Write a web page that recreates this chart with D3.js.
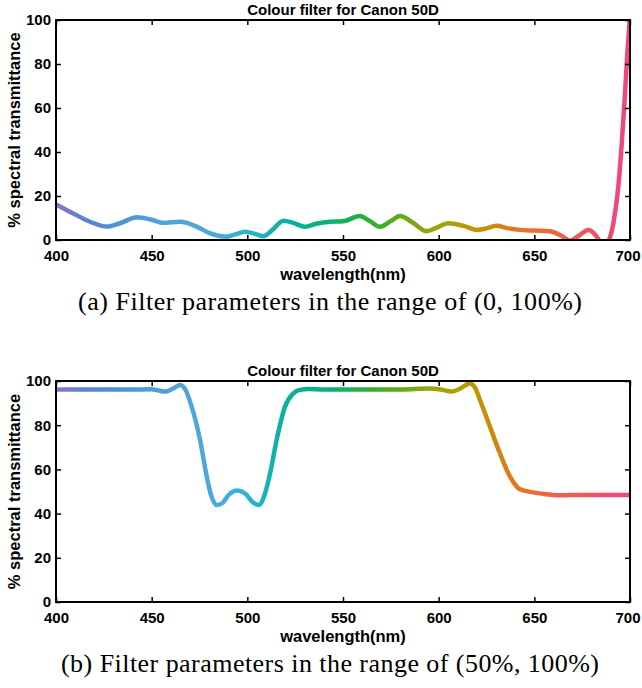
<!DOCTYPE html>
<html>
<head>
<meta charset="utf-8">
<script src="https://cdn.jsdelivr.net/npm/d3@7"></script>
<style>
  body { margin: 0; background: #fff; }
</style>
</head>
<body>
<div id="my_dataviz"></div>
<script>
// panel (a): filter in the range (0, 100%)
var wlA = [400, 409, 417.8, 426.5, 433.4, 442.2, 450, 456, 464.8, 473.5, 480, 489.2, 494, 498.8, 504, 508.4, 513, 518.8, 524, 530.1, 536, 543.2, 550, 558.8, 564, 569.3, 575, 579.8, 587, 593.7, 599, 605, 613, 619.9, 625, 630.3, 636, 642.5, 650, 658, 664, 668.6, 673, 678.2, 682, 684.5, 686.5, 688.7, 691.3, 693.9, 695.7, 697.4, 698.6, 700];
var transA = [16.2, 12.1, 8.3, 6.1, 7.6, 10.3, 9.2, 7.8, 8.3, 6.1, 3.2, 1.5, 2.6, 3.8, 2.8, 1.7, 4.5, 8.8, 7.8, 6.0, 7.4, 8.3, 8.5, 10.9, 8.6, 6.0, 8.6, 10.9, 7.6, 4.0, 5.6, 7.6, 6.4, 4.6, 5.3, 6.5, 5.4, 4.6, 4.3, 4.0, 2.0, -0.3, 1.8, 4.5, 2.2, -1.0, -4.0, -1.0, 7.6, 24.2, 43.9, 66.7, 84.8, 102];

// panel (b): filter in the range (50%, 100%)
var wlB = [400, 420, 440, 450, 453, 457, 461, 464.8, 467.5, 470.9, 475.3, 478.8, 481, 484, 487, 490, 494.8, 499, 503, 506.1, 509, 511.9, 515.3, 519.7, 524, 527.5, 532, 540, 560, 580, 595, 601, 606.8, 611, 616.4, 619, 621.6, 626.8, 632, 637.3, 642.5, 649.4, 655, 661.7, 670, 685, 700];
var transB = [96.2, 96.2, 96.1, 96.3, 95.8, 95.2, 96.5, 98.2, 96.3, 88.4, 73.3, 56.7, 48.5, 43.9, 44.8, 48.2, 50.4, 49.0, 45.0, 43.9, 48.5, 58.2, 73.3, 88.4, 94.4, 96.0, 96.4, 96.2, 96.2, 96.2, 96.6, 96.2, 95.2, 96.5, 98.9, 97.0, 91.4, 79.3, 67.3, 56.7, 51.0, 49.6, 48.9, 48.3, 48.4, 48.4, 48.4];

var xTicks = [400, 450, 500, 550, 600, 650, 700];
var yTicks = [0, 20, 40, 60, 80, 100];
var chartTitle = "Colour filter for Canon 50D";
var xLabel = "wavelength(nm)";
var yLabel = "% spectral transmittance";
var captionA = "(a) Filter parameters in the range of (0, 100%)";
var captionB = "(b) Filter parameters in the range of (50%, 100%)";

// spectrum colours used for the line stroke
var specWl = [400, 415, 430, 460, 485, 500, 515, 530, 550, 565, 580, 595, 610, 625, 640, 655, 670, 685, 700];
var specCol = ["#8b74c6", "#5b84cc", "#4a92d2", "#55a2d8", "#4ca9dc", "#2bb3d2", "#12b0aa", "#05b08e", "#12b062", "#32ae30", "#62aa12", "#92a612", "#b29e04", "#c88e04", "#e07820", "#ee6838", "#f05c52", "#f04c6e", "#f0467c"];

var width = 642, height = 688;
var left = 56, right = 630;

var svg = d3.select("#my_dataviz")
  .append("svg")
    .attr("width", width)
    .attr("height", height)
    .style("font-family", "'Liberation Sans', Arial, sans-serif");

var defs = svg.append("defs");

var x = d3.scaleLinear().domain([400, 700]).range([left, right]);

// gradient along x so the colour follows the wavelength
var grad = defs.append("linearGradient")
  .attr("id", "spec")
  .attr("gradientUnits", "userSpaceOnUse")
  .attr("x1", x(400)).attr("x2", x(700))
  .attr("y1", 0).attr("y2", 0);
grad.selectAll("stop")
  .data(specWl)
  .enter().append("stop")
    .attr("offset", function(d) { return (d - 400) / 300; })
    .attr("stop-color", function(d, i) { return specCol[i]; });

function drawPanel(id, top, bottom, wl, vals, caption, capWidth) {
  var y = d3.scaleLinear().domain([0, 100]).range([bottom, top]);
  var g = svg.append("g");

  defs.append("clipPath").attr("id", "clip" + id)
    .append("rect")
      .attr("x", left).attr("y", top)
      .attr("width", right - left).attr("height", bottom - top);

  // the curve
  var pts = wl.map(function(d, i) { return [d, vals[i]]; });
  var line = d3.line()
    .x(function(d) { return x(d[0]); })
    .y(function(d) { return y(d[1]); })
    .curve(d3.curveMonotoneX);
  g.append("path")
    .datum(pts)
    .attr("clip-path", "url(#clip" + id + ")")
    .attr("d", line)
    .attr("fill", "none")
    .attr("stroke", "url(#spec)")
    .attr("stroke-width", 4.5)
    .attr("stroke-linecap", "round")
    .attr("stroke-linejoin", "round");

  // axes, ticks pointing inward on all four sides
  var xb = g.append("g").attr("transform", "translate(0," + bottom + ")")
    .call(d3.axisBottom(x).tickValues(xTicks).tickSizeInner(-5).tickSizeOuter(0).tickPadding(10).tickFormat(d3.format("d")));
  var xt = g.append("g").attr("transform", "translate(0," + top + ")")
    .call(d3.axisTop(x).tickValues(xTicks).tickSizeInner(-5).tickSizeOuter(0).tickFormat(""));
  var yl = g.append("g").attr("transform", "translate(" + left + ",0)")
    .call(d3.axisLeft(y).tickValues(yTicks).tickSizeInner(-5).tickSizeOuter(0).tickPadding(5).tickFormat(d3.format("d")));
  var yr = g.append("g").attr("transform", "translate(" + right + ",0)")
    .call(d3.axisRight(y).tickValues(yTicks).tickSizeInner(-5).tickSizeOuter(0).tickFormat(""));

  [xb, xt, yl, yr].forEach(function(a) {
    a.select(".domain").remove();
    a.selectAll(".tick line").attr("stroke", "#000").attr("stroke-width", 1.5);
    a.selectAll("text")
      .attr("fill", "#000")
      .style("font-family", "'Liberation Sans', Arial, sans-serif")
      .style("font-size", "15px")
      .style("font-weight", "bold");
  });
  // keep the last x label inside the page edge
  xb.selectAll(".tick text").filter(function(d) { return d === 700; })
    .attr("text-anchor", "end").attr("dx", 10);

  // frame
  g.append("rect")
    .attr("x", left).attr("y", top)
    .attr("width", right - left).attr("height", bottom - top)
    .attr("fill", "none")
    .attr("stroke", "#000")
    .attr("stroke-width", 2);

  // title
  g.append("text")
    .attr("x", (left + right) / 2)
    .attr("y", top - 5)
    .attr("text-anchor", "middle")
    .style("font-size", "15px")
    .style("font-weight", "bold")
    .text(chartTitle);

  // axis labels
  g.append("text")
    .attr("x", (left + right) / 2)
    .attr("y", bottom + 40)
    .attr("text-anchor", "middle")
    .style("font-size", "16.5px")
    .style("font-weight", "bold")
    .text(xLabel);

  g.append("text")
    .attr("transform", "translate(20," + (top + bottom) / 2 + ") rotate(-90)")
    .attr("text-anchor", "middle")
    .style("font-size", "16.5px")
    .style("font-weight", "bold")
    .text(yLabel);

  // figure caption
  g.append("text")
    .attr("x", 330)
    .attr("y", bottom + 70)
    .attr("text-anchor", "middle")
    .attr("textLength", capWidth)
    .attr("lengthAdjust", "spacing")
    .style("font-family", "'Liberation Serif', 'Times New Roman', serif")
    .style("font-size", "26px")
    .text(caption);
}

drawPanel("a", 20, 240, wlA, transA, captionA, 504);
drawPanel("b", 381, 602, wlB, transB, captionB, 538);
</script>
</body>
</html>
